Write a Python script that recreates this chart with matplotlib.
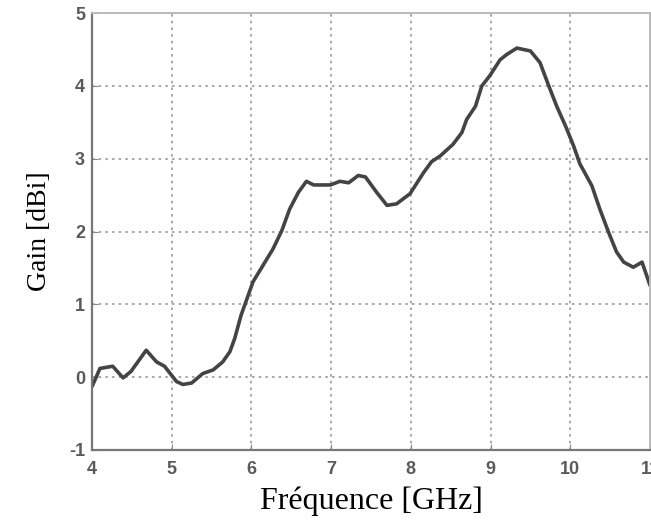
import matplotlib
matplotlib.use("Agg")
import matplotlib.pyplot as plt

plt.rcParams['axes.unicode_minus'] = False

# Gain curve
freq = [4.00, 4.10, 4.26, 4.39, 4.49, 4.68, 4.81, 4.91, 5.06, 5.14, 5.25, 5.39,
        5.52, 5.64, 5.73, 5.79, 5.87, 6.02, 6.27, 6.38, 6.48, 6.59, 6.69, 6.78,
        6.99, 7.11, 7.22, 7.34, 7.43, 7.57, 7.70, 7.82, 7.99, 8.16, 8.26, 8.37,
        8.53, 8.64, 8.70, 8.81, 8.89, 8.99, 9.12, 9.20, 9.33, 9.50, 9.62, 9.73,
        9.83, 9.94, 10.04, 10.12, 10.27, 10.37, 10.48, 10.58, 10.67, 10.79,
        10.90, 11.00]
gain = [-0.13, 0.12, 0.15, -0.01, 0.08, 0.37, 0.21, 0.15, -0.06, -0.10, -0.08,
        0.05, 0.10, 0.21, 0.35, 0.53, 0.85, 1.31, 1.76, 2.01, 2.31, 2.54, 2.69,
        2.64, 2.64, 2.69, 2.67, 2.77, 2.75, 2.54, 2.36, 2.38, 2.52, 2.81, 2.96,
        3.04, 3.20, 3.36, 3.54, 3.72, 4.00, 4.14, 4.36, 4.43, 4.52, 4.48, 4.32,
        4.00, 3.72, 3.45, 3.18, 2.93, 2.63, 2.31, 1.99, 1.72, 1.58, 1.51, 1.58,
        1.26]

xticks = [4, 5, 6, 7, 8, 9, 10, 11]
yticks = [-1, 0, 1, 2, 3, 4, 5]

fig = plt.figure(figsize=(6.51, 5.25), dpi=100)
ax = fig.add_axes([0.1413, 0.1429, 0.8572, 0.8321])

ax.plot(freq, gain, color='#444444', lw=2.6, solid_joinstyle='round',
        solid_capstyle='round')

ax.set_xlim(4, 11)
ax.set_ylim(-1, 5)
ax.set_xticks(xticks)
ax.set_yticks(yticks)
ax.grid(True, color='#999999', linestyle=(0, (1.5, 2.5)), lw=1.2)

for side in ['left', 'bottom']:
    ax.spines[side].set_color('#777777')
    ax.spines[side].set_linewidth(1.6)
for side in ['top', 'right']:
    ax.spines[side].set_color('#bbbbbb')
    ax.spines[side].set_linewidth(1.4)

ax.tick_params(direction='in', length=4, color='#888888', labelcolor='#5a5a5a',
               labelsize=13, pad=5)
ax.tick_params(axis='x', pad=8)
for lab in ax.get_xticklabels() + ax.get_yticklabels():
    lab.set_fontweight('bold')
    lab.set_family('Liberation Sans')

ax.set_xlabel('Fréquence [GHz]', family='Liberation Serif', fontsize=23, labelpad=6)
ax.set_ylabel('Gain [dBi]', family='Liberation Serif', fontsize=20, labelpad=12)

fig.savefig('out.png', dpi=100)
